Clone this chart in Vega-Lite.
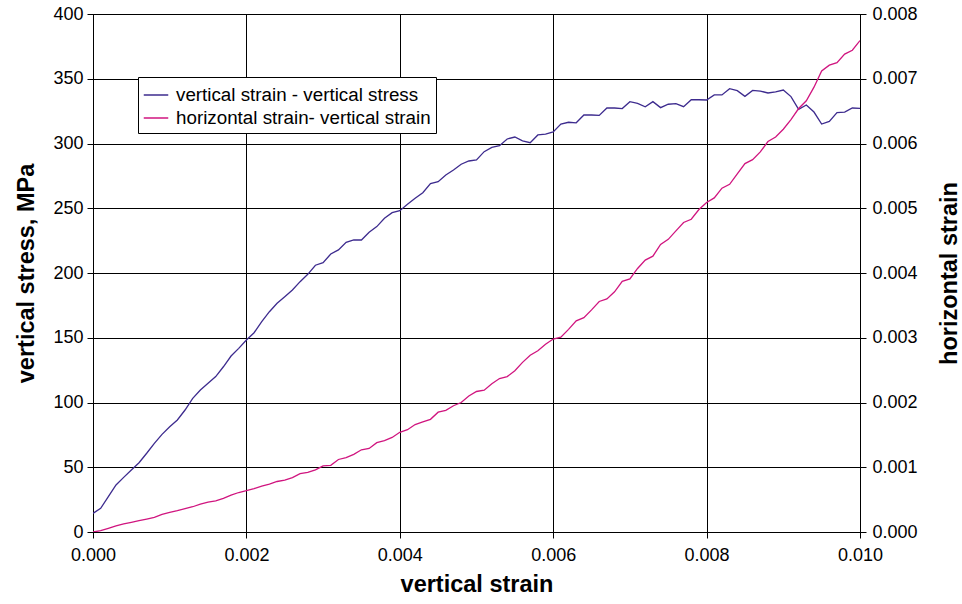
{
  "$schema": "https://vega.github.io/schema/vega-lite/v6.json",
  "autosize": "none",
  "padding": {"left": 93, "top": 14, "right": 102, "bottom": 72},
  "width": 767,
  "height": 518,
  "background": "white",
  "config": {
    "view": {"stroke": "black", "strokeWidth": 1},
    "font": "Liberation Sans",
    "axis": {
      "labelFont": "Liberation Sans",
      "labelFontSize": 18,
      "labelColor": "black",
      "labelFlush": false,
      "labelOverlap": false,
      "tickColor": "black",
      "tickSize": 6,
      "domainColor": "black",
      "gridColor": "black",
      "gridOpacity": 1,
      "titleFont": "Liberation Sans",
      "titleFontSize": 23.5,
      "titleFontWeight": "bold",
      "titleColor": "black"
    },
    "legend": {
      "labelFont": "Liberation Sans",
      "labelFontSize": 18.8,
      "labelColor": "black",
      "labelLimit": 0
    }
  },
  "datasets": {
    "vs": [
      {"s":0.0000,"y":14.4},{"s":0.0001,"y":18.3},{"s":0.0002,"y":27.3},{"s":0.0003,"y":36.3},{"s":0.0004,"y":42.2},
      {"s":0.0005,"y":47.9},{"s":0.0006,"y":53.5},{"s":0.0007,"y":60.8},{"s":0.0008,"y":68.5},{"s":0.0009,"y":75.4},
      {"s":0.0010,"y":81.3},{"s":0.0011,"y":86.5},{"s":0.0012,"y":94.2},{"s":0.0013,"y":103.2},{"s":0.0014,"y":109.7},
      {"s":0.0015,"y":114.8},{"s":0.0016,"y":120},{"s":0.0017,"y":127.6},{"s":0.0018,"y":135.9},{"s":0.0019,"y":141.8},
      {"s":0.0020,"y":148.3},{"s":0.0021,"y":153.9},{"s":0.0022,"y":162.4},{"s":0.0023,"y":170.1},{"s":0.0024,"y":176.6},
      {"s":0.0025,"y":181.7},{"s":0.0026,"y":186.9},{"s":0.0027,"y":193.3},{"s":0.0028,"y":199},{"s":0.0029,"y":206},
      {"s":0.0030,"y":208},{"s":0.0031,"y":214.7},{"s":0.0032,"y":217.8},{"s":0.0033,"y":223.7},{"s":0.0034,"y":225.5},
      {"s":0.0035,"y":225.5},{"s":0.0036,"y":231.4},{"s":0.0037,"y":235.8},{"s":0.0038,"y":242.2},{"s":0.0039,"y":246.6},
      {"s":0.0040,"y":248.1},{"s":0.0041,"y":253},{"s":0.0042,"y":257.7},{"s":0.0043,"y":262},{"s":0.0044,"y":269},
      {"s":0.0045,"y":270.5},{"s":0.0046,"y":275.7},{"s":0.0047,"y":279.5},{"s":0.0048,"y":284},{"s":0.0049,"y":286.5},
      {"s":0.0050,"y":287.3},{"s":0.0051,"y":293.7},{"s":0.0052,"y":297},{"s":0.0053,"y":298.3},{"s":0.0054,"y":303.5},
      {"s":0.0055,"y":305},{"s":0.0056,"y":302},{"s":0.0057,"y":300.6},{"s":0.0058,"y":306.6},{"s":0.0059,"y":307.3},
      {"s":0.0060,"y":309},{"s":0.0061,"y":315},{"s":0.0062,"y":316.4},{"s":0.0063,"y":316},{"s":0.0064,"y":322},
      {"s":0.0065,"y":322},{"s":0.0066,"y":321.7},{"s":0.0067,"y":327.4},{"s":0.0068,"y":327.4},{"s":0.0069,"y":327},
      {"s":0.0070,"y":332.3},{"s":0.0071,"y":331},{"s":0.0072,"y":328.4},{"s":0.0073,"y":332.3},{"s":0.0074,"y":327.7},
      {"s":0.0075,"y":330.3},{"s":0.0076,"y":330.8},{"s":0.0077,"y":328.4},{"s":0.0078,"y":333.8},{"s":0.0079,"y":333.8},
      {"s":0.0080,"y":333.6},{"s":0.0081,"y":337.5},{"s":0.0082,"y":337.5},{"s":0.0083,"y":342.3},{"s":0.0084,"y":340.8},
      {"s":0.0085,"y":336.4},{"s":0.0086,"y":341},{"s":0.0087,"y":340.5},{"s":0.0088,"y":339},{"s":0.0089,"y":339.8},
      {"s":0.0090,"y":341.3},{"s":0.0091,"y":336.2},{"s":0.0092,"y":326.4},{"s":0.0093,"y":329.7},{"s":0.0094,"y":324.3},
      {"s":0.0095,"y":315},{"s":0.0096,"y":317.1},{"s":0.0097,"y":323.8},{"s":0.0098,"y":324.3},{"s":0.0099,"y":327.4},
      {"s":0.0100,"y":327.2}
    ],
    "hs": [
      {"s":0.0000,"y":0},{"s":0.0001,"y":0.00002},{"s":0.0002,"y":0.000057},{"s":0.0003,"y":0.000093},{"s":0.0004,"y":0.000124},
      {"s":0.0005,"y":0.00015},{"s":0.0006,"y":0.000175},{"s":0.0007,"y":0.0002},{"s":0.0008,"y":0.000227},{"s":0.0009,"y":0.000273},
      {"s":0.0010,"y":0.000304},{"s":0.0011,"y":0.000329},{"s":0.0012,"y":0.00036},{"s":0.0013,"y":0.00039},{"s":0.0014,"y":0.00043},
      {"s":0.0015,"y":0.00046},{"s":0.0016,"y":0.00048},{"s":0.0017,"y":0.00052},{"s":0.0018,"y":0.00057},{"s":0.0019,"y":0.00061},
      {"s":0.0020,"y":0.00064},{"s":0.0021,"y":0.00067},{"s":0.0022,"y":0.00071},{"s":0.0023,"y":0.00074},{"s":0.0024,"y":0.00078},
      {"s":0.0025,"y":0.0008},{"s":0.0026,"y":0.00084},{"s":0.0027,"y":0.0009},{"s":0.0028,"y":0.00092},{"s":0.0029,"y":0.00096},
      {"s":0.0030,"y":0.00102},{"s":0.0031,"y":0.00103},{"s":0.0032,"y":0.00112},{"s":0.0033,"y":0.00115},{"s":0.0034,"y":0.0012},
      {"s":0.0035,"y":0.00127},{"s":0.0036,"y":0.00129},{"s":0.0037,"y":0.00138},{"s":0.0038,"y":0.00141},{"s":0.0039,"y":0.00146},
      {"s":0.0040,"y":0.00154},{"s":0.0041,"y":0.00158},{"s":0.0042,"y":0.00166},{"s":0.0043,"y":0.0017},{"s":0.0044,"y":0.00174},
      {"s":0.0045,"y":0.00185},{"s":0.0046,"y":0.00188},{"s":0.0047,"y":0.00195},{"s":0.0048,"y":0.002},{"s":0.0049,"y":0.0021},
      {"s":0.0050,"y":0.00217},{"s":0.0051,"y":0.00219},{"s":0.0052,"y":0.00229},{"s":0.0053,"y":0.00237},{"s":0.0054,"y":0.0024},
      {"s":0.0055,"y":0.00249},{"s":0.0056,"y":0.00262},{"s":0.0057,"y":0.00273},{"s":0.0058,"y":0.0028},{"s":0.0059,"y":0.0029},
      {"s":0.0060,"y":0.00298},{"s":0.0061,"y":0.00301},{"s":0.0062,"y":0.00313},{"s":0.0063,"y":0.00326},{"s":0.0064,"y":0.00331},
      {"s":0.0065,"y":0.00343},{"s":0.0066,"y":0.00356},{"s":0.0067,"y":0.0036},{"s":0.0068,"y":0.00371},{"s":0.0069,"y":0.00387},
      {"s":0.0070,"y":0.00391},{"s":0.0071,"y":0.00407},{"s":0.0072,"y":0.0042},{"s":0.0073,"y":0.00426},{"s":0.0074,"y":0.00444},
      {"s":0.0075,"y":0.00452},{"s":0.0076,"y":0.00465},{"s":0.0077,"y":0.00478},{"s":0.0078,"y":0.00483},{"s":0.0079,"y":0.00498},
      {"s":0.0080,"y":0.00509},{"s":0.0081,"y":0.00516},{"s":0.0082,"y":0.00531},{"s":0.0083,"y":0.00537},{"s":0.0084,"y":0.00553},
      {"s":0.0085,"y":0.00569},{"s":0.0086,"y":0.00575},{"s":0.0087,"y":0.00587},{"s":0.0088,"y":0.00603},{"s":0.0089,"y":0.0061},
      {"s":0.0090,"y":0.00622},{"s":0.0091,"y":0.00637},{"s":0.0092,"y":0.00654},{"s":0.0093,"y":0.00666},{"s":0.0094,"y":0.00687},
      {"s":0.0095,"y":0.00712},{"s":0.0096,"y":0.00721},{"s":0.0097,"y":0.00725},{"s":0.0098,"y":0.00738},{"s":0.0099,"y":0.00744},
      {"s":0.0100,"y":0.00759}
    ]
  },
  "encoding": {
    "x": {
      "field": "s",
      "type": "quantitative",
      "scale": {"domain": [0, 0.01], "nice": false, "zero": false},
      "axis": {
        "title": "vertical strain",
        "format": ".3f",
        "values": [0, 0.002, 0.004, 0.006, 0.008, 0.01],
        "grid": true,
        "labelPadding": 8,
        "titlePadding": 8
      }
    }
  },
  "layer": [
    {
      "data": {"name": "vs"},
      "mark": {"type": "line", "strokeWidth": 1.3, "clip": true},
      "encoding": {
        "y": {
          "field": "y",
          "type": "quantitative",
          "scale": {"domain": [0, 400], "nice": false},
          "axis": {
            "title": "vertical stress, MPa",
            "orient": "left",
            "values": [0, 50, 100, 150, 200, 250, 300, 350, 400],
            "grid": true,
            "labelPadding": 4,
            "titlePadding": 14
          }
        },
        "color": {
          "datum": "vertical strain - vertical stress",
          "type": "nominal",
          "scale": {
            "domain": ["vertical strain - vertical stress", "horizontal strain- vertical strain"],
            "range": ["#3d2b8e", "#d0157f"]
          },
          "legend": {
            "title": null,
            "orient": "none",
            "legendX": 45,
            "legendY": 63,
            "strokeColor": "black",
            "fillColor": "white",
            "padding": 5,
            "symbolType": "stroke",
            "symbolSize": 600,
            "symbolStrokeWidth": 1.5,
            "rowPadding": 0,
            "labelOffset": 7,
            "labelLimit": 0
          }
        }
      }
    },
    {
      "data": {"name": "hs"},
      "mark": {"type": "line", "strokeWidth": 1.3, "clip": true},
      "encoding": {
        "y": {
          "field": "y",
          "type": "quantitative",
          "scale": {"domain": [0, 0.008], "nice": false},
          "axis": {
            "title": "horizontal strain",
            "orient": "right",
            "format": ".3f",
            "values": [0, 0.001, 0.002, 0.003, 0.004, 0.005, 0.006, 0.007, 0.008],
            "grid": false,
            "labelPadding": 6,
            "titleAngle": -90,
            "titlePadding": 44
          }
        },
        "color": {
          "datum": "horizontal strain- vertical strain",
          "type": "nominal"
        }
      }
    }
  ],
  "resolve": {"scale": {"y": "independent"}}
}
